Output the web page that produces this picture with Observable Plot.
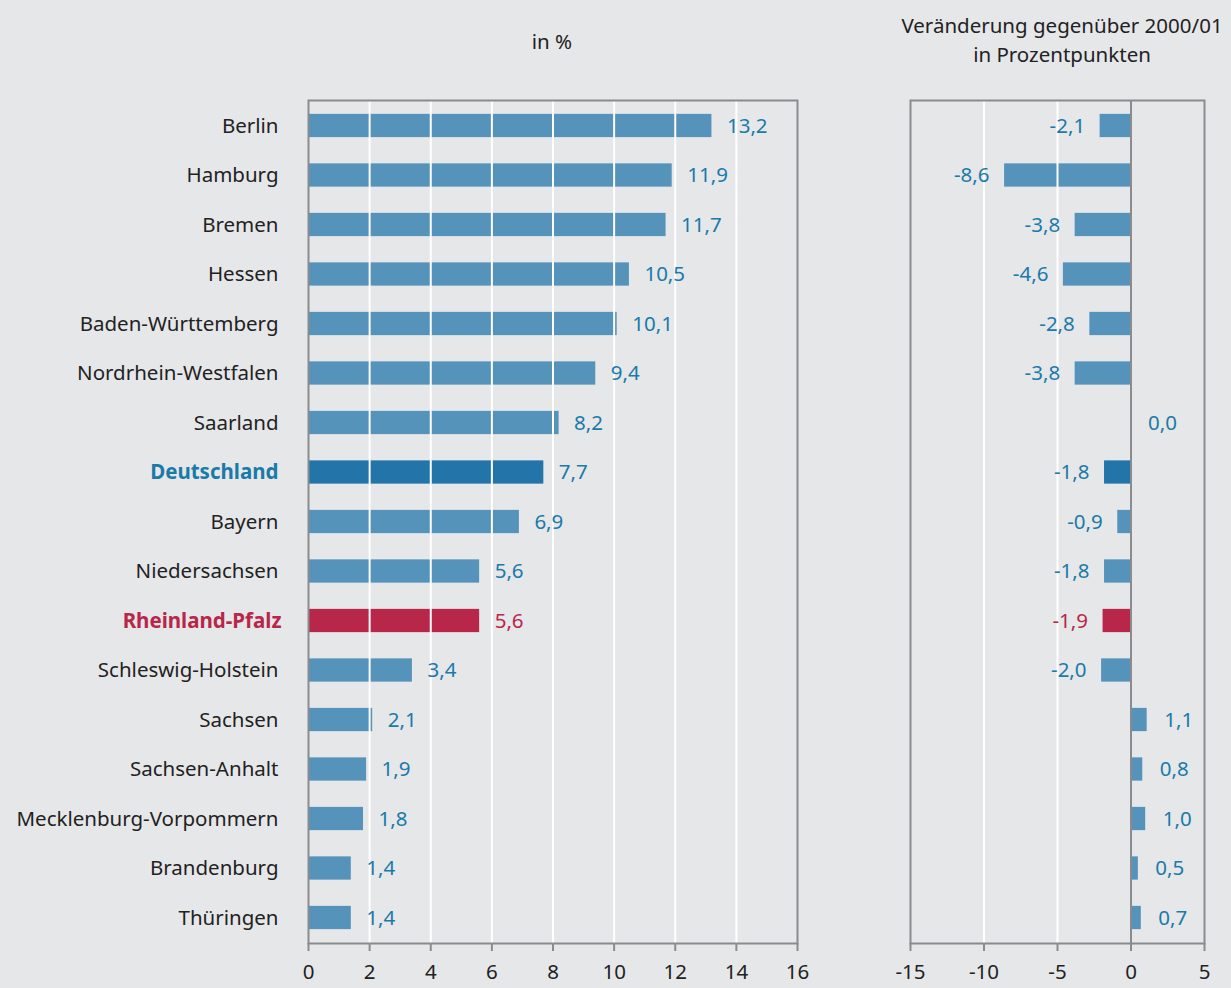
<!DOCTYPE html>
<html>
<head>
<meta charset="utf-8">
<script src="https://cdn.jsdelivr.net/npm/d3@7"></script>
<script src="https://cdn.jsdelivr.net/npm/@observablehq/plot@0.6"></script>
<style>
  html, body { margin: 0; padding: 0; background: #e6e7e9; }
  #wrap { position: relative; width: 1231px; height: 988px; background: #e6e7e9; font-family: "Noto Sans", sans-serif; overflow: hidden; }
  .title { position: absolute; color: #222; font-size: 20.5px; text-align: center; line-height: 29px; }
  .panel { position: absolute; }
  .panel svg { background: transparent !important; overflow: visible; }
</style>
</head>
<body>
<div id="wrap">
  <div class="title" style="left:452px; top:27px; width:200px;">in %</div>
  <div class="title" style="left:880px; top:11px; width:364px;">Veränderung gegenüber 2000/01<br>in Prozentpunkten</div>
  <div class="panel" id="left" style="left:0; top:80px;"></div>
  <div class="panel" id="right" style="left:880px; top:80px;"></div>
</div>
<script>
const regions = ["Berlin","Hamburg","Bremen","Hessen","Baden-Württemberg","Nordrhein-Westfalen","Saarland","Deutschland","Bayern","Niedersachsen","Rheinland-Pfalz","Schleswig-Holstein","Sachsen","Sachsen-Anhalt","Mecklenburg-Vorpommern","Brandenburg","Thüringen"];
const shares = [13.2,11.9,11.7,10.5,10.1,9.4,8.2,7.7,6.9,5.6,5.6,3.4,2.1,1.9,1.8,1.4,1.4];
const changes = [-2.1,-8.6,-3.8,-4.6,-2.8,-3.8,0.0,-1.8,-0.9,-1.8,-1.9,-2.0,1.1,0.8,1.0,0.5,0.7];
const leftTicks = [0,2,4,6,8,10,12,14,16];
const rightTicks = [-15,-10,-5,0,5];

const BAR = "#5593bb", DE = "#2374a8", RP = "#b8264a", LBL = "#1a7aa8", GRID = "#ffffff", FRAME = "#8a8b8e", TXT = "#222222";
const FONT = "Noto Sans, sans-serif";
const FS = 20.5;

const data = regions.map((name, i) => ({name, share: shares[i], change: changes[i]}));
const barColor = d => d.name === "Deutschland" ? DE : d.name === "Rheinland-Pfalz" ? RP : BAR;
const lblColor = d => d.name === "Rheinland-Pfalz" ? RP : LBL;
const fmt = v => v.toFixed(1).replace(".", ",");

const common = {
  height: 908,
  marginTop: 20,
  marginBottom: 45,
  style: {fontFamily: FONT, fontSize: FS + "px", background: "transparent", color: TXT},
  color: {type: "identity"},
  y: {domain: regions, paddingInner: 0.53, paddingOuter: 0.28, round: false, axis: null}
};

const left = Plot.plot({
  ...common,
  width: 830,
  marginLeft: 308,
  marginRight: 33,
  x: {domain: [0, 16]},
  marks: [
    Plot.barX(data, {x: "share", y: "name", fill: barColor}),
    Plot.ruleX(leftTicks.slice(1, -1), {stroke: GRID, strokeWidth: 2}),
    Plot.frame({stroke: FRAME, strokeWidth: 2}),
    Plot.axisX({ticks: leftTicks, tickFormat: d => String(d), tickSize: 8, tickPadding: 13, stroke: FRAME, strokeWidth: 2, fill: TXT, fontSize: FS, label: null}),
    Plot.text(data, {x: "share", y: "name", text: d => fmt(d.share), fill: lblColor, textAnchor: "start", dx: 15, fontSize: FS}),
    Plot.text(data.filter(d => d.name !== "Deutschland" && d.name !== "Rheinland-Pfalz"), {x: () => 0, y: "name", text: "name", fill: TXT, textAnchor: "end", dx: -30, fontSize: FS}),
    Plot.text(data.filter(d => d.name === "Deutschland"), {x: () => 0, y: "name", text: "name", fill: LBL, fontWeight: "bold", textAnchor: "end", dx: -30, fontSize: FS}),
    Plot.text(data.filter(d => d.name === "Rheinland-Pfalz"), {x: () => 0, y: "name", text: "name", fill: RP, fontWeight: "bold", textAnchor: "end", dx: -27, fontSize: FS})
  ]
});
document.getElementById("left").append(left);

const right = Plot.plot({
  ...common,
  width: 351,
  marginLeft: 30,
  marginRight: 27,
  x: {domain: [-15, 5]},
  marks: [
    Plot.barX(data, {x: "change", y: "name", fill: barColor}),
    Plot.ruleX([-10, -5], {stroke: GRID, strokeWidth: 2}),
    Plot.ruleX([0], {stroke: FRAME, strokeWidth: 2}),
    Plot.frame({stroke: FRAME, strokeWidth: 2}),
    Plot.axisX({ticks: rightTicks, tickFormat: d => String(d), tickSize: 8, tickPadding: 13, stroke: FRAME, strokeWidth: 2, fill: TXT, fontSize: FS, label: null}),
    Plot.text(data.filter(d => d.change < 0), {x: "change", y: "name", text: d => fmt(d.change), fill: lblColor, textAnchor: "end", dx: -15, fontSize: FS}),
    Plot.text(data.filter(d => d.change >= 0), {x: "change", y: "name", text: d => fmt(d.change), fill: lblColor, textAnchor: "start", dx: 17, fontSize: FS})
  ]
});
document.getElementById("right").append(right);
</script>
</body>
</html>
